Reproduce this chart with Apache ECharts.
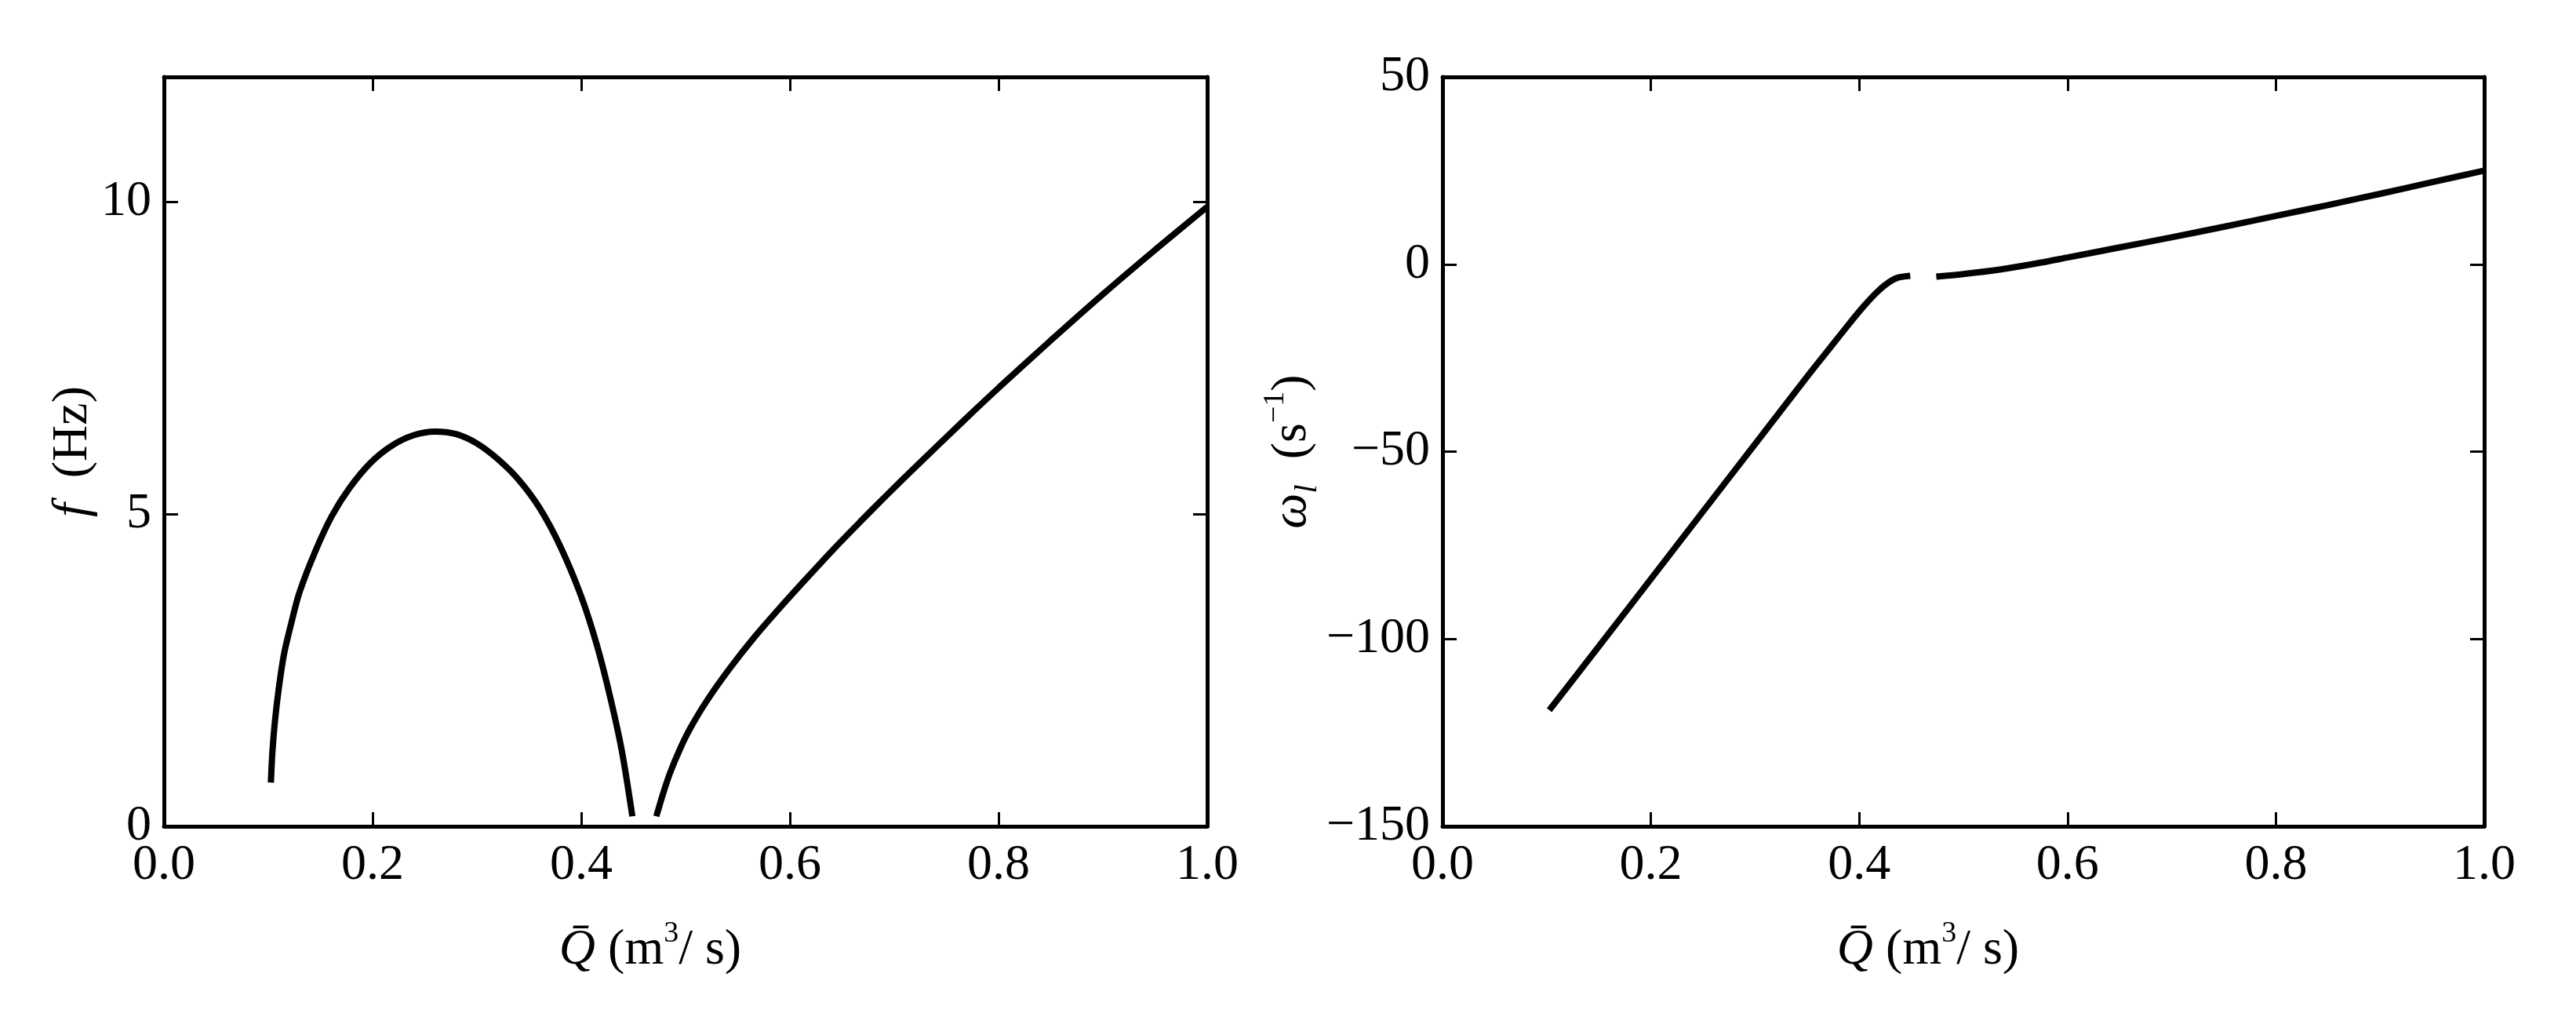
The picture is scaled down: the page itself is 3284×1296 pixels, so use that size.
<!DOCTYPE html>
<html>
<head>
<meta charset="utf-8">
<script src="https://cdn.jsdelivr.net/npm/echarts@6/dist/echarts.min.js"></script>
<style>
  html, body { margin: 0; padding: 0; background: #fff; }
  #chart { width: 3284px; height: 1296px; }
</style>
</head>
<body>
<div id="chart"></div>
<script>
// left panel: frequency f (Hz) vs mean flow Q (m3/s)
const freqQA = [0.1025, 0.104, 0.1065, 0.110, 0.115, 0.122, 0.130, 0.145, 0.161, 0.178, 0.198, 0.218, 0.239, 0.260, 0.280, 0.300, 0.320, 0.340, 0.360, 0.380, 0.400, 0.415, 0.428, 0.439, 0.449]
const freqA = [0.70, 1.20, 1.70, 2.20, 2.75, 3.25, 3.75, 4.40, 4.97, 5.42, 5.82, 6.09, 6.26, 6.32, 6.28, 6.13, 5.88, 5.55, 5.10, 4.48, 3.68, 2.90, 2.05, 1.20, 0.16]
const freqQB = [0.472, 0.478, 0.485, 0.495, 0.5045, 0.52, 0.542, 0.566, 0.592, 0.617, 0.642, 0.667, 0.692, 0.725, 0.75, 0.775, 0.80, 0.85, 0.90, 0.95, 1.0]
const freqB = [0.16, 0.50, 0.85, 1.25, 1.57, 2.0, 2.52, 3.03, 3.53, 3.99, 4.44, 4.87, 5.29, 5.83, 6.23, 6.63, 7.02, 7.78, 8.52, 9.23, 9.92]

// right panel: growth rate omega_I (1/s) vs Q
const omegaQA = [0.1025, 0.15, 0.2, 0.25, 0.3, 0.35, 0.372, 0.39, 0.405, 0.418, 0.428, 0.437, 0.449]
const omegaA = [-119, -102, -84, -66, -48, -30, -22.3, -16.0, -11.0, -7.2, -4.9, -3.6, -3.1]
const omegaQB = [0.474, 0.5, 0.535, 0.57, 0.6, 0.65, 0.7, 0.75, 0.8, 0.85, 0.9, 0.95, 1.0]
const omegaB = [-3.3, -2.6, -1.4, 0.2, 1.8, 4.5, 7.2, 10.0, 12.9, 15.8, 18.8, 21.9, 25.0]

const qTicks = { min: 0, max: 1, interval: 0.2 }
const fTicks = { min: 0, max: 12, interval: 5 }
const omegaTicks = { min: -150, max: 50, interval: 50 }

const serif = '"Liberation Serif", "Times New Roman", serif'
const richStyles = {
  t: { fontSize: 64, lineHeight: 80, fontFamily: serif, color: '#000' },
  i: { fontSize: 64, lineHeight: 80, fontFamily: serif, fontStyle: 'italic', color: '#000' },
  sup: { fontSize: 38, lineHeight: 38, fontFamily: serif, color: '#000', verticalAlign: 'top' },
  sub: { fontSize: 40, lineHeight: 40, fontFamily: serif, fontStyle: 'italic', color: '#000', verticalAlign: 'bottom' }
}

const zip = (xs, ys) => xs.map((x, i) => [x, ys[i]])

const lineStyle = { color: '#000', width: 5 }
const tickStyle = { color: '#000', width: 3 }

const makeXAxis = (gridIndex, position, withLabels) => ({
  type: 'value',
  gridIndex,
  position,
  ...qTicks,
  axisLine: { show: true, onZero: false, lineStyle },
  axisTick: { show: true, inside: true, length: 18, lineStyle: tickStyle },
  splitLine: { show: false },
  axisLabel: {
    show: withLabels,
    margin: 18,
    fontSize: 64,
    fontFamily: serif,
    color: '#000',
    formatter: (v) => v.toFixed(1)
  },
  name: withLabels ? '{i|Q\u0304}{t| (m}{sup|3}{t|/ s)}' : '',
  nameLocation: 'middle',
  nameGap: 118,
  nameTextStyle: { rich: richStyles, padding: [0, 90, 0, 0] }
})

const makeYAxis = (gridIndex, position, ticks, withLabels, name, nameGap) => ({
  type: 'value',
  gridIndex,
  position,
  ...ticks,
  axisLine: { show: true, onZero: false, lineStyle },
  axisTick: { show: true, inside: true, length: 18, lineStyle: tickStyle },
  splitLine: { show: false },
  axisLabel: {
    show: withLabels,
    margin: 16,
    fontSize: 64,
    fontFamily: serif,
    color: '#000',
    formatter: (v) => (v === ticks.max && v % ticks.interval !== 0) ? '' : String(v).replace('-', '\u2212')
  },
  name: withLabels ? name : '',
  nameLocation: 'middle',
  nameGap,
  nameTextStyle: { rich: richStyles }
})

const curve = (xAxisIndex, yAxisIndex, data) => ({
  type: 'line',
  xAxisIndex,
  yAxisIndex,
  data,
  showSymbol: false,
  smooth: 0.3,
  lineStyle: { color: '#000', width: 8 },
  silent: true,
  animation: false
})

const chart = echarts.init(document.getElementById('chart'))
chart.setOption({
  backgroundColor: '#fff',
  animation: false,
  grid: [
    { left: 209, top: 98, width: 1330, height: 955, outerBoundsMode: 'none' },
    { left: 1839, top: 98, width: 1328, height: 955, outerBoundsMode: 'none' }
  ],
  xAxis: [
    makeXAxis(0, 'bottom', true),
    makeXAxis(0, 'top', false),
    makeXAxis(1, 'bottom', true),
    makeXAxis(1, 'top', false)
  ],
  yAxis: [
    makeYAxis(0, 'left', fTicks, true, '{i|f}{t|  (Hz)}', 72),
    makeYAxis(0, 'right', fTicks, false, '', 0),
    makeYAxis(1, 'left', omegaTicks, true, '{i|\u03c9}{sub|l}{t|  (s}{sup|\u22121}{t|)}', 118),
    makeYAxis(1, 'right', omegaTicks, false, '', 0)
  ],
  series: [
    curve(0, 0, zip(freqQA, freqA)),
    curve(0, 0, zip(freqQB, freqB)),
    curve(2, 2, zip(omegaQA, omegaA)),
    curve(2, 2, zip(omegaQB, omegaB))
  ]
})
</script>
</body>
</html>
